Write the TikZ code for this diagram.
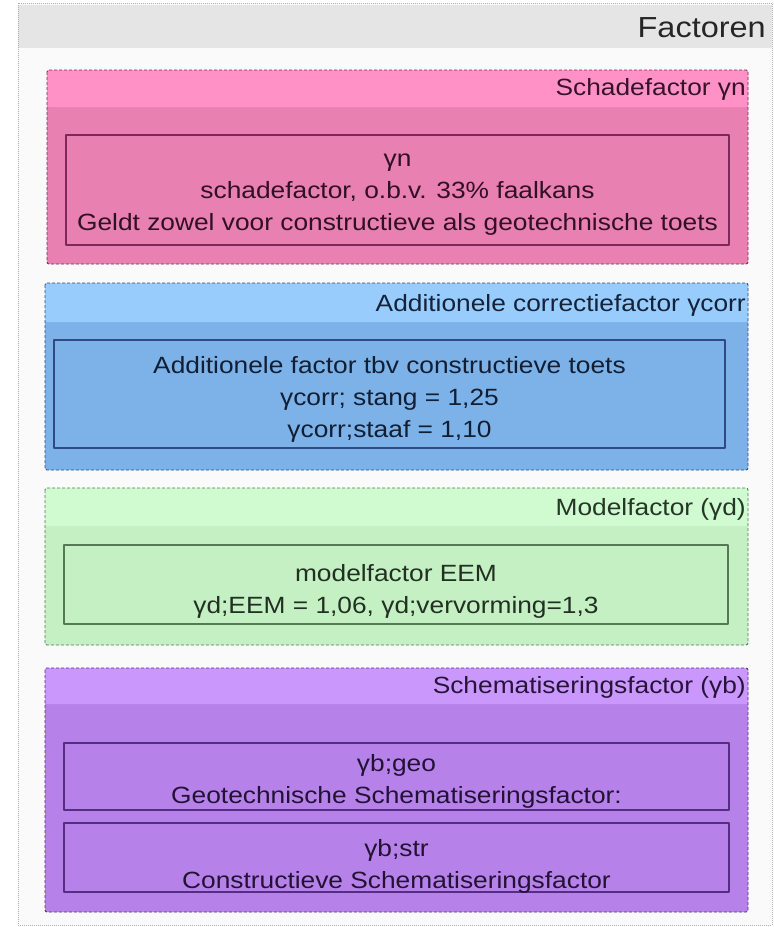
\documentclass[tikz,border=0pt]{standalone}
\usepackage{fontspec}
\setmainfont{Liberation Sans}[FakeStretch=1.12]
\definecolor{pinkbody}{RGB}{232,128,178}
\definecolor{pinkhead}{RGB}{255,145,198}
\definecolor{pinkline}{RGB}{125,40,88}
\definecolor{bluebody}{RGB}{124,178,232}
\definecolor{bluehead}{RGB}{152,204,252}
\definecolor{blueline}{RGB}{45,75,130}
\definecolor{greenbody}{RGB}{196,240,196}
\definecolor{greenhead}{RGB}{208,250,208}
\definecolor{greenline}{RGB}{85,120,85}
\definecolor{purplebody}{RGB}{182,130,234}
\definecolor{purplehead}{RGB}{202,152,252}
\definecolor{purpleline}{RGB}{85,45,130}
\tikzset{
  groupframe/.style={draw=#1, dash pattern=on 3pt off 2pt, line width=0.9pt, rounded corners=2pt},
  grouptitle/.style={anchor=east, inner sep=0pt, text=#1!45!black},
  itembox/.style={draw=#1, line width=1.1pt, inner sep=0pt},
  itemtext/.style={align=center, inner sep=0pt, text=#1!40!black},
}
\begin{document}
\begin{tikzpicture}[x=1pt, y=-1pt, font=\fontsize{23.5}{32}\selectfont, line join=round]
\useasboundingbox (0,0) rectangle (774,927);
% outer container
\fill[black!2] (18,3) rectangle (772,925);
\fill[black!10] (18,5) rectangle (772,48);
\draw[black!30, densely dotted, line width=1pt] (18,3) rectangle (772,925);
\node[anchor=east, inner sep=0pt, font=\fontsize{29}{36}\selectfont, text=black!85] (factoren) at (766,28) {Factoren};
% Schadefactor
\fill[pinkbody, rounded corners=2pt] (47,70) rectangle (748,264);
\fill[pinkhead, rounded corners=2pt] (47,70) rectangle (748,107);
\draw[groupframe=pinkline] (47,70) rectangle (748,264);
\node[grouptitle=pinkline] (gntitle) at (746,89) {Schadefactor γn};
\node[itembox=pinkline, minimum width=663pt, minimum height=110pt] (gnbox) at (397.5,190) {};
\node[itemtext=pinkline] (gn) at (397.5,195)
  {γn\\schadefactor, o.b.v. 33\% faalkans\\Geldt zowel voor constructieve als geotechnische toets};
% Additionele correctiefactor
\fill[bluebody, rounded corners=2pt] (45,283) rectangle (748,470);
\fill[bluehead, rounded corners=2pt] (45,283) rectangle (748,322);
\draw[groupframe=blueline] (45,283) rectangle (748,470);
\node[grouptitle=blueline] (gcorrtitle) at (746,305) {Additionele correctiefactor γcorr};
\node[itembox=blueline, minimum width=671pt, minimum height=108pt] (gcorrbox) at (389.5,394) {};
\node[itemtext=blueline] (gcorr) at (389.5,399)
  {Additionele factor tbv constructieve toets\\γcorr; stang = 1,25\\γcorr;staaf = 1,10};
% Modelfactor
\fill[greenbody, rounded corners=2pt] (45,488) rectangle (748,645);
\fill[greenhead, rounded corners=2pt] (45,488) rectangle (748,526);
\draw[groupframe=greenline] (45,488) rectangle (748,645);
\node[grouptitle=greenline] (gdtitle) at (746,509) {Modelfactor (γd)};
\node[itembox=greenline, minimum width=664pt, minimum height=79pt] (gdbox) at (396,584.5) {};
\node[itemtext=greenline] (gd) at (396,591)
  {modelfactor EEM\\γd;EEM = 1,06, γd;vervorming=1,3};
% Schematiseringsfactor
\fill[purplebody, rounded corners=2pt] (45,668) rectangle (748,912);
\fill[purplehead, rounded corners=2pt] (45,668) rectangle (748,704);
\draw[groupframe=purpleline] (45,668) rectangle (748,912);
\node[grouptitle=purpleline] (gbtitle) at (746,687) {Schematiseringsfactor (γb)};
\node[itembox=purpleline, minimum width=665pt, minimum height=67pt] (gbgeobox) at (396.5,776.5) {};
\node[itemtext=purpleline] (gbgeo) at (396.5,781)
  {γb;geo\\Geotechnische Schematiseringsfactor:};
\node[itembox=purpleline, minimum width=665pt, minimum height=69pt] (gbstrbox) at (396.5,857.5) {};
\node[itemtext=purpleline] (gbstr) at (396.5,866)
  {γb;str\\Constructieve Schematiseringsfactor};
\end{tikzpicture}
\end{document}
